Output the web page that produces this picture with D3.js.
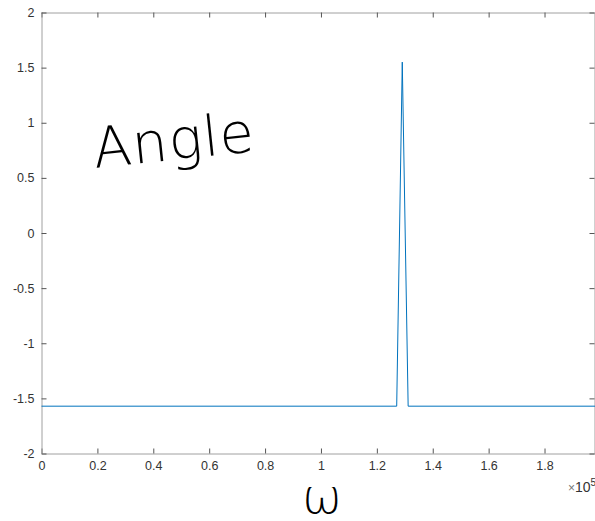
<!DOCTYPE html>
<html>
<head>
<meta charset="utf-8">
<script src="https://cdn.jsdelivr.net/npm/d3@7"></script>
<style>
  html, body { margin: 0; padding: 0; background: #fff; }
  svg { display: block; }
</style>
</head>
<body>
<svg id="chart" width="595" height="521"></svg>
<script>
// Data (x in units of 10^5)
const omega = [0, 1.271, 1.291, 1.312, 1.99];
const angle = [-1.5708, -1.5708, 1.55, -1.5708, -1.5708];
const xTicks = [0, 0.2, 0.4, 0.6, 0.8, 1, 1.2, 1.4, 1.6, 1.8];
const yTicks = [-2, -1.5, -1, -0.5, 0, 0.5, 1, 1.5, 2];
const xDomain = [0, 1.986];
const yDomain = [-2, 2];

const svg = d3.select("#chart");
const mLeft = 41.5, mRight = 596.5, mTop = 12.5, mBottom = 453.5;

const x = d3.scaleLinear().domain(xDomain).range([mLeft, mRight]);
const y = d3.scaleLinear().domain(yDomain).range([mBottom, mTop]);

const axisColor = "#a0a0a0";
const textColor = "#333";
const font = "'Liberation Sans', Arial, Helvetica, sans-serif";

function style(g, labels) {
  g.select(".domain").attr("stroke", axisColor);
  g.selectAll(".tick line").attr("stroke", "#555");
  g.selectAll(".tick text")
    .attr("fill", textColor)
    .style("font-family", font)
    .style("font-size", "12.5px");
  if (!labels) g.selectAll(".tick text").remove();
}

const fmt = d => String(d);

svg.append("g")
  .attr("transform", `translate(0,${mBottom})`)
  .call(d3.axisBottom(x).tickValues(xTicks).tickFormat(fmt).tickSizeInner(-5).tickSizeOuter(0).tickPadding(8))
  .call(g => style(g, true));

svg.append("g")
  .attr("transform", `translate(0,${mTop})`)
  .call(d3.axisTop(x).tickValues(xTicks).tickSizeInner(-5).tickSizeOuter(0))
  .call(g => style(g, false));

svg.append("g")
  .attr("transform", `translate(${mLeft},0)`)
  .call(d3.axisLeft(y).tickValues(yTicks).tickFormat(fmt).tickSizeInner(-5).tickSizeOuter(0).tickPadding(7))
  .call(g => style(g, true));

svg.append("g")
  .attr("transform", `translate(${mRight - 2},0)`)
  .call(d3.axisRight(y).tickValues(yTicks).tickSizeInner(-5).tickSizeOuter(0))
  .call(g => style(g, false));

// exponent label
const ex = svg.append("text")
  .attr("x", 568).attr("y", 492)
  .attr("fill", textColor)
  .style("font-family", font)
  .style("font-size", "14px");
ex.append("tspan").style("font-size", "12px").attr("fill", "#777").text("×");
ex.append("tspan").text("10");
ex.append("tspan").attr("dy", -6).style("font-size", "10px").text("5");

// data line
const line = d3.line().x((d, i) => x(omega[i])).y((d, i) => y(angle[i]));
svg.append("path")
  .datum(angle)
  .attr("d", line)
  .attr("fill", "none")
  .attr("stroke", "#0072BD")
  .attr("stroke-width", 1);

// handwritten annotations
svg.append("text")
  .attr("transform", "translate(95,168) rotate(-6)")
  .attr("fill", "#000")
  .style("font-family", "'DejaVu Sans', sans-serif")
  .style("font-weight", 300)
  .style("font-size", "56px")
  .style("letter-spacing", "1px")
  .text("Angle");

svg.append("text")
  .attr("x", 322).attr("y", 513)
  .attr("text-anchor", "middle")
  .attr("fill", "#000")
  .style("font-family", "'DejaVu Sans', sans-serif")
  .style("font-weight", 300)
  .style("font-size", "48px")
  .text("ω");
</script>
</body>
</html>
